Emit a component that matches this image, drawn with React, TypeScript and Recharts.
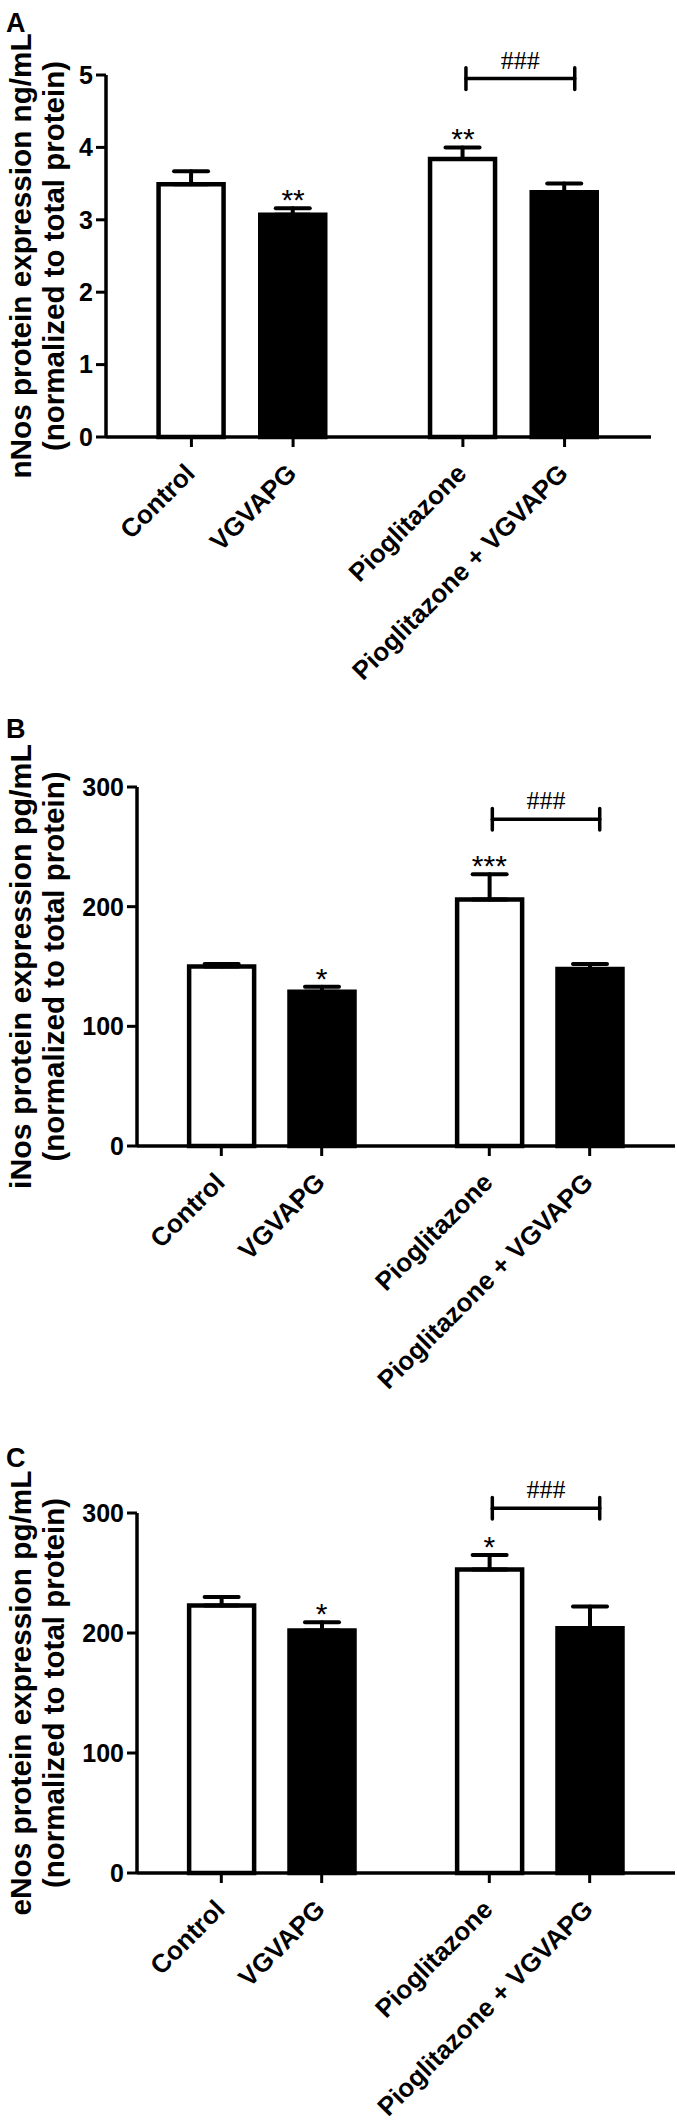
import { BarChart, Bar, XAxis, YAxis, ErrorBar, Cell, ReferenceLine, ReferenceDot } from 'recharts';

const groups = ['Control', 'VGVAPG', 'Pioglitazone', 'Pioglitazone + VGVAPG'];
const barFills = ['#ffffff', '#000000', '#ffffff', '#000000'];

// A - nNos (ng/mL)
const nNosMean = [3.49, 3.07, 3.84, 3.38];
const nNosSem = [0.18, 0.09, 0.16, 0.12];
const nNosStars = ['', '**', '**', ''];
const nNosTicks = [0, 1, 2, 3, 4, 5];
const nNosHashLevel = 4.95;

// B - iNos (pg/mL)
const iNosMean = [150, 129, 206, 148];
const iNosSem = [2, 4, 21, 4];
const iNosStars = ['', '*', '***', ''];
const iNosTicks = [0, 100, 200, 300];
const iNosHashLevel = 273;

// C - eNos (pg/mL)
const eNosMean = [223, 202, 253, 204];
const eNosSem = [7, 7, 12, 18];
const eNosStars = ['', '*', '*', ''];
const eNosTicks = [0, 100, 200, 300];
const eNosHashLevel = 304;

const groupGap = 0.67;
const positions = groups.map((_, i) => i + (i >= 2 ? groupGap : 0));
const FONT = "'Liberation Sans', Arial, Helvetica, sans-serif";

function GroupTick(props: any) {
  const { x, y, payload } = props;
  const i = positions.findIndex(p => Math.abs(p - payload.value) < 1e-6);
  const ax = x + 5;
  const ay = y + 26;
  return (
    <text x={ax} y={ay} transform={`rotate(-45 ${ax} ${ay})`} textAnchor="end"
      fontSize={26} fontWeight="bold" fontFamily={FONT} fill="#000">
      {groups[i]}
    </text>
  );
}

function AxisTitle(props: any) {
  const { viewBox, lines, letter, letterY } = props;
  const cy = viewBox.y + viewBox.height / 2;
  const xs = [31, 64];
  const lens = [445, 390];
  return (
    <g>
      <text x={6} y={letterY} fontSize={27} fontWeight="bold" fontFamily={FONT} fill="#000">{letter}</text>
      {lines.map((t: string, k: number) => (
        <text key={k} x={xs[k]} y={cy} transform={`rotate(-90 ${xs[k]} ${cy})`} textAnchor="middle"
          textLength={lens[k]} lengthAdjust="spacingAndGlyphs"
          fontSize={30} fontWeight="bold" fontFamily={FONT} fill="#000">{t}</text>
      ))}
    </g>
  );
}

function StarLabel(props: any) {
  const { viewBox, text } = props;
  return (
    <text x={viewBox.x + (viewBox.width || 0) / 2} y={viewBox.y + 2} textAnchor="middle"
      fontSize={30} fontFamily={FONT} fill="#000">{text}</text>
  );
}

function HashLabel(props: any) {
  const { viewBox } = props;
  return (
    <text x={viewBox.x + (viewBox.width || 0) / 2} y={viewBox.y - 10} textAnchor="middle"
      fontSize={26} fontFamily="'Liberation Serif', 'Times New Roman', serif" fill="#000">###</text>
  );
}

interface PanelProps {
  letter: string;
  letterY: number;
  top: number;
  height: number;
  margin: { top: number; left: number; right: number; bottom: number };
  yLabel: string[];
  means: number[];
  sems: number[];
  stars: string[];
  ticks: number[];
  hashLevel: number;
}

function Panel({ letter, letterY, top, height, margin, yLabel, means, sems, stars, ticks, hashLevel }: PanelProps) {
  const yMax = ticks[ticks.length - 1];
  const rows = means.map((m, i) => ({ pos: positions[i], name: groups[i], mean: m, err: [0, sems[i]] }));
  const x0 = positions[2] + 0.03;
  const x1 = positions[3] + 0.1;
  const d = yMax * 0.03;
  const line = { stroke: '#000', strokeWidth: 3.5, strokeLinecap: 'round' as const };

  return (
    <div style={{ position: 'absolute', left: 0, top }}>
      <BarChart width={677} height={height} data={rows} margin={margin}>
        <XAxis type="number" dataKey="pos" domain={[-0.84, 4.52]} ticks={positions} interval={0}
          allowDataOverflow height={30} tickSize={10} tickMargin={2}
          axisLine={{ stroke: '#000', strokeWidth: 3.5 }} tickLine={{ stroke: '#000', strokeWidth: 3 }}
          tick={<GroupTick />} />
        <YAxis type="number" domain={[0, yMax]} ticks={ticks} interval={0} width={60}
          tickSize={10} tickMargin={3}
          axisLine={{ stroke: '#000', strokeWidth: 3.5 }} tickLine={{ stroke: '#000', strokeWidth: 3 }}
          tick={{ fill: '#000', fontSize: 25, fontWeight: 'bold', fontFamily: FONT }}
          label={<AxisTitle lines={yLabel} letter={letter} letterY={letterY} />} />
        <Bar dataKey="mean" barSize={65} stroke="#000" strokeWidth={4.5} isAnimationActive={false}>
          {rows.map((_, i) => <Cell key={i} fill={barFills[i]} />)}
          <ErrorBar dataKey="err" direction="y" width={17} stroke="#000" strokeWidth={4}
            strokeLinecap="round" isAnimationActive={false} />
        </Bar>
        {means.map((m, i) => stars[i] ? (
          <ReferenceDot key={'s' + i} x={positions[i]} y={m + sems[i]} r={0} fill="none" stroke="none"
            ifOverflow="visible" label={<StarLabel text={stars[i]} />} />
        ) : null)}
        <ReferenceLine segment={[{ x: x0, y: hashLevel }, { x: x1, y: hashLevel }]} ifOverflow="visible" {...line} />
        <ReferenceLine segment={[{ x: x0, y: hashLevel - d }, { x: x0, y: hashLevel + d }]} ifOverflow="visible" {...line} />
        <ReferenceLine segment={[{ x: x1, y: hashLevel - d }, { x: x1, y: hashLevel + d }]} ifOverflow="visible" {...line} />
        <ReferenceDot x={(x0 + x1) / 2} y={hashLevel} r={0} fill="none" stroke="none"
          ifOverflow="visible" label={<HashLabel />} />
      </BarChart>
    </div>
  );
}

export default function App() {
  return (
    <div style={{ position: 'absolute', left: 0, top: 0, width: 677, height: 2125, background: '#fff', fontFamily: FONT }}>
      <Panel letter="A" letterY={32} top={0} height={700}
        margin={{ top: 75, left: 46, right: 26, bottom: 233 }}
        yLabel={['nNos protein expression ng/mL', '(normalized to total protein)']}
        means={nNosMean} sems={nNosSem} stars={nNosStars} ticks={nNosTicks} hashLevel={nNosHashLevel} />
      <Panel letter="B" letterY={38} top={700} height={740}
        margin={{ top: 87, left: 77, right: 2, bottom: 264 }}
        yLabel={['iNos protein expression pg/mL', '(normalized to total protein)']}
        means={iNosMean} sems={iNosSem} stars={iNosStars} ticks={iNosTicks} hashLevel={iNosHashLevel} />
      <Panel letter="C" letterY={47} top={1420} height={705}
        margin={{ top: 93, left: 77, right: 2, bottom: 222 }}
        yLabel={['eNos protein expression pg/mL', '(normalized to total protein)']}
        means={eNosMean} sems={eNosSem} stars={eNosStars} ticks={eNosTicks} hashLevel={eNosHashLevel} />
    </div>
  );
}
